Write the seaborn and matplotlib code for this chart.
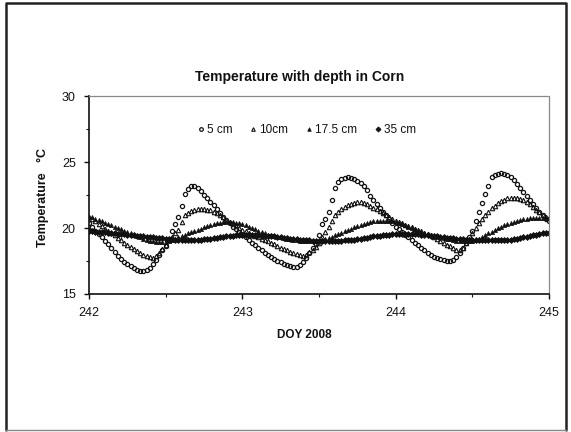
import numpy as np
import pandas as pd
import matplotlib
matplotlib.use("Agg")
import matplotlib.pyplot as plt
from matplotlib.lines import Line2D
from matplotlib.ticker import MultipleLocator
import seaborn as sns

# ---- data (half-hourly samples, DOY 242.0 .. 245.0) ----
start_doy = 242.0
samples_per_day = 48

t_5cm = [20.4, 20.1, 19.8, 19.55, 19.3, 19.05, 18.8, 18.5, 18.2, 17.9,
         17.65, 17.45, 17.25, 17.1, 16.95, 16.85, 16.78, 16.75, 16.8, 17.0,
         17.3, 17.6, 17.95, 18.3, 18.6, 19.2, 19.75, 20.3, 20.8, 21.7,
         22.6, 22.95, 23.2, 23.2, 23.05, 22.8, 22.5, 22.25, 22.0, 21.75,
         21.45, 21.15, 20.85, 20.6, 20.35, 20.1, 19.9, 19.7,
         19.5, 19.3, 19.1, 18.9, 18.7, 18.5, 18.3, 18.1, 17.92, 17.78,
         17.65, 17.52, 17.4, 17.3, 17.2, 17.12, 17.08, 17.05, 17.2, 17.45,
         17.75, 18.1, 18.45, 18.8, 19.5, 20.3, 20.7, 21.2, 22.1, 23.0,
         23.5, 23.7, 23.82, 23.85, 23.8, 23.7, 23.55, 23.4, 23.15, 22.85,
         22.45, 22.1, 21.8, 21.5, 21.2, 20.95, 20.65, 20.4,
         20.1, 19.9, 19.7, 19.5, 19.3, 19.1, 18.9, 18.7, 18.5, 18.3,
         18.1, 17.95, 17.8, 17.7, 17.62, 17.56, 17.52, 17.52, 17.6, 17.8,
         18.1, 18.45, 18.85, 19.3, 19.8, 20.5, 21.2, 21.9, 22.6, 23.2,
         23.85, 24.0, 24.12, 24.15, 24.1, 24.0, 23.85, 23.6, 23.35, 23.05,
         22.75, 22.45, 22.15, 21.85, 21.55, 21.25, 20.95, 20.7, 20.5]

t_10cm = [20.8, 20.65, 20.5, 20.3, 20.15, 19.95, 19.8, 19.6, 19.45, 19.25,
          19.1, 18.9, 18.75, 18.55, 18.4, 18.25, 18.1, 17.95, 17.85, 17.8,
          17.75, 17.85, 18.1, 18.4, 18.7, 19.1, 19.35, 19.6, 19.85, 20.45,
          20.95, 21.15, 21.3, 21.4, 21.45, 21.45, 21.45, 21.4, 21.35, 21.25,
          21.1, 20.95, 20.8, 20.6, 20.45, 20.3, 20.15, 20.0,
          19.85, 19.75, 19.6, 19.5, 19.4, 19.3, 19.2, 19.1, 19.0, 18.9,
          18.8, 18.65, 18.5, 18.4, 18.3, 18.2, 18.1, 18.0, 17.95, 17.9,
          17.95, 18.15, 18.35, 18.55, 18.9, 19.3, 19.7, 20.1, 20.5, 20.95,
          21.25, 21.45, 21.6, 21.72, 21.82, 21.9, 21.95, 21.95, 21.9, 21.8,
          21.7, 21.55, 21.45, 21.3, 21.15, 21.0, 20.85, 20.7,
          20.55, 20.45, 20.35, 20.25, 20.15, 20.05, 19.95, 19.85, 19.75, 19.65,
          19.55, 19.45, 19.35, 19.2, 19.05, 18.9, 18.75, 18.6, 18.45, 18.35,
          18.3, 18.5, 18.85, 19.2, 19.6, 20.0, 20.35, 20.65, 20.95, 21.25,
          21.5, 21.7, 21.9, 22.05, 22.15, 22.25, 22.3, 22.3, 22.25, 22.2,
          22.1, 21.95, 21.8, 21.6, 21.4, 21.2, 21.0, 20.85, 20.75]

t_17cm = [20.85, 20.8, 20.7, 20.6, 20.5, 20.4, 20.3, 20.2, 20.1, 20.0,
          19.9, 19.8, 19.7, 19.6, 19.5, 19.4, 19.3, 19.2, 19.12, 19.05,
          19.0, 18.97, 18.95, 18.95, 18.97, 19.02, 19.1, 19.2, 19.3, 19.4,
          19.5, 19.6, 19.7, 19.8, 19.85, 19.95, 20.05, 20.15, 20.25, 20.3,
          20.35, 20.4, 20.42, 20.45, 20.45, 20.42, 20.4, 20.35,
          20.3, 20.2, 20.1, 20.0, 19.9, 19.8, 19.7, 19.6, 19.5, 19.45,
          19.4, 19.35, 19.3, 19.25, 19.2, 19.15, 19.1, 19.07, 19.05, 19.02,
          19.0, 19.0, 19.0, 19.02, 19.05, 19.1, 19.15, 19.25, 19.35, 19.45,
          19.55, 19.65, 19.75, 19.85, 19.95, 20.05, 20.15, 20.25, 20.32, 20.4,
          20.45, 20.5, 20.52, 20.55, 20.55, 20.55, 20.52, 20.5,
          20.45, 20.4, 20.3, 20.2, 20.1, 20.0, 19.9, 19.8, 19.72, 19.65,
          19.58, 19.5, 19.43, 19.36, 19.3, 19.24, 19.18, 19.13, 19.08, 19.05,
          19.02, 19.0, 19.0, 19.02, 19.05, 19.1, 19.2, 19.35, 19.5, 19.6,
          19.72, 19.85, 19.97, 20.1, 20.2, 20.3, 20.4, 20.47, 20.53, 20.6,
          20.65, 20.7, 20.72, 20.75, 20.77, 20.78, 20.78, 20.75, 20.72]

t_35cm = [19.77, 19.75, 19.73, 19.71, 19.69, 19.67, 19.65, 19.62, 19.6, 19.57,
          19.55, 19.52, 19.5, 19.47, 19.45, 19.42, 19.4, 19.37, 19.35, 19.32,
          19.3, 19.27, 19.25, 19.22, 19.2, 19.17, 19.15, 19.12, 19.1, 19.1,
          19.1, 19.1, 19.1, 19.1, 19.12, 19.12, 19.15, 19.18, 19.2, 19.23,
          19.26, 19.3, 19.33, 19.36, 19.4, 19.42, 19.44, 19.45,
          19.46, 19.46, 19.46, 19.45, 19.45, 19.44, 19.43, 19.42, 19.4, 19.38,
          19.36, 19.33, 19.3, 19.27, 19.24, 19.2, 19.17, 19.14, 19.12, 19.1,
          19.08, 19.06, 19.05, 19.05, 19.05, 19.05, 19.05, 19.05, 19.05, 19.05,
          19.05, 19.05, 19.06, 19.07, 19.08, 19.1, 19.13, 19.17, 19.22, 19.27,
          19.32, 19.37, 19.4, 19.43, 19.46, 19.48, 19.5, 19.52,
          19.53, 19.54, 19.55, 19.55, 19.55, 19.54, 19.53, 19.52, 19.5, 19.48,
          19.45, 19.42, 19.39, 19.36, 19.33, 19.3, 19.27, 19.24, 19.21, 19.18,
          19.15, 19.13, 19.12, 19.1, 19.1, 19.1, 19.1, 19.1, 19.1, 19.1,
          19.1, 19.1, 19.1, 19.1, 19.1, 19.1, 19.12, 19.15, 19.2, 19.25,
          19.3, 19.35, 19.4, 19.45, 19.5, 19.55, 19.6, 19.62, 19.65]

series_labels = ["5 cm", "10cm", "17.5 cm", "35 cm"]
x_ticks = [242, 243, 244, 245]
y_ticks = [15, 20, 25, 30]
title = "Temperature with depth in Corn"
x_label = "DOY 2008"
y_label = "Temperature   \u00b0C"

n = min(len(t_5cm), len(t_10cm), len(t_17cm), len(t_35cm))
doy = start_doy + np.arange(n) / samples_per_day
df = pd.DataFrame({"doy": doy, "5 cm": t_5cm[:n], "10cm": t_10cm[:n],
                   "17.5 cm": t_17cm[:n], "35 cm": t_35cm[:n]})

# ---- styling ----
sns.set_theme(style="white")
plt.rcParams["font.family"] = ["Liberation Sans", "DejaVu Sans"]

W, H = 571, 432
fig = plt.figure(figsize=(W / 100, H / 100), dpi=100)
ax = fig.add_axes([89 / W, 1 - 294 / H, (549 - 89) / W, (294 - 96) / H])

ink = "#111111"
styles = {
    "5 cm":    dict(marker="o", markerfacecolor="none", markersize=3.0, markeredgewidth=0.9),
    "10cm":    dict(marker="^", markerfacecolor="none", markersize=3.2, markeredgewidth=0.8),
    "17.5 cm": dict(marker="^", markerfacecolor=ink, markersize=3.0, markeredgewidth=0.5),
    "35 cm":   dict(marker="D", markerfacecolor=ink, markersize=3.0, markeredgewidth=0.6),
}
for lab in series_labels:
    sns.lineplot(data=df, x="doy", y=lab, ax=ax, color=ink, linestyle="",
                 markeredgecolor=ink, label=lab, legend=False, **styles[lab])

ax.set_xlim(242, 245)
ax.set_ylim(15, 30)
ax.set_xticks(x_ticks)
ax.set_yticks(y_ticks)
ax.xaxis.set_minor_locator(MultipleLocator(0.5))
ax.yaxis.set_minor_locator(MultipleLocator(2.5))
ax.tick_params(axis="both", which="major", direction="out", length=3.5, width=1,
               color=ink, labelsize=9, labelcolor=ink, bottom=True, left=True)
ax.tick_params(axis="x", which="major", pad=5.5)
ax.tick_params(axis="y", which="major", pad=6)
ax.tick_params(axis="both", which="minor", direction="out", length=2, width=0.8,
               color=ink, bottom=True, left=True)
ax.set_xlabel("")
ax.set_ylabel("")

for s in ["left", "bottom"]:
    ax.spines[s].set_color(ink)
    ax.spines[s].set_linewidth(1.2)
for s in ["top", "right"]:
    ax.spines[s].set_color("#888888")
    ax.spines[s].set_linewidth(0.9)
    ax.spines[s].set_linestyle((0, (1, 1)))

handles = [Line2D([], [], color=ink, linestyle="", **styles[lab]) for lab in series_labels]
for h in handles:
    h.set_markeredgecolor(ink)
    h.set_markersize(2.6)
ax.legend(handles, series_labels, loc="center", bbox_to_anchor=(0.474, 0.83),
          ncol=4, frameon=False, fontsize=8.5, handlelength=0.5, handletextpad=0.25,
          columnspacing=1.5, labelcolor=ink)

fig.text(300 / W, 1 - 77 / H, title, ha="center", va="center",
         fontsize=10, fontweight="bold", color=ink)
fig.text(304 / W, 1 - 335 / H, x_label, ha="center", va="center",
         fontsize=8.5, fontweight="bold", color=ink)
fig.text(43 / W, 1 - 197 / H, y_label, ha="center", va="center", rotation=90,
         fontsize=9, fontweight="bold", color=ink)

# scanned slide frame
frame = Line2D([6 / W, 6 / W, 566 / W, 566 / W],
               [1 - 430 / H, 1 - 3 / H, 1 - 3 / H, 1 - 430 / H],
               transform=fig.transFigure, color="#222222", linewidth=1.8)
fig.add_artist(frame)
bottom_edge = Line2D([6 / W, 566 / W], [1 - 430 / H, 1 - 430 / H],
                     transform=fig.transFigure, color="#888888", linewidth=1.0)
fig.add_artist(bottom_edge)

fig.savefig("out.png", dpi=100, facecolor="white")
